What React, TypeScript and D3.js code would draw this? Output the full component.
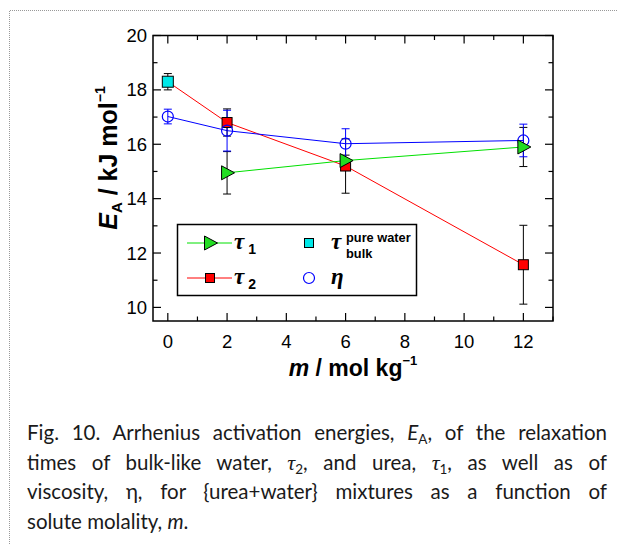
import React, { useEffect, useRef } from "react";
import * as d3 from "d3";

const tau1X = [2, 6, 12];
const tau1Y = [14.95, 15.4, 15.9];
const tau1Err = [0.78, 0.2, 0.72];

const tau2X = [0, 2, 6, 12];
const tau2Y = [18.3, 16.8, 15.2, 11.57];
const tau2Err = [0.3, 0.5, 1.0, 1.45];

const bulkX = [0];
const bulkY = [18.3];
const bulkErr = [0.3];

const etaX = [0, 2, 6, 12];
const etaY = [17.02, 16.5, 16.02, 16.14];
const etaErr = [0.27, 0.75, 0.55, 0.6];

const xTicks = [0, 2, 4, 6, 8, 10, 12];
const yTicks = [10, 12, 14, 16, 18, 20];

type Seg = { t: string; it?: boolean; sub?: boolean; font?: string };
const captionLines: Seg[][] = [
  [{ t: "Fig. 10. Arrhenius activation energies, " }, { t: "E", it: true }, { t: "A", sub: true }, { t: ", of the relaxation" }],
  [{ t: "times of bulk-like water, " }, { t: "τ", it: true, font: "Liberation Serif" }, { t: "2", sub: true }, { t: ", and urea, " }, { t: "τ", it: true, font: "Liberation Serif" }, { t: "1", sub: true }, { t: ", as well as of" }],
  [{ t: "viscosity, η, for {urea+water} mixtures as a function of" }],
  [{ t: "solute molality, " }, { t: "m", it: true }, { t: "." }],
];

export default function App() {
  const ref = useRef<SVGSVGElement>(null);

  useEffect(() => {
    const svg = d3.select(ref.current);
    svg.selectAll("*").remove();
    const W = 617, H = 544;
    svg.append("rect").attr("width", W).attr("height", H).attr("fill", "white");

    // dotted border
    svg.append("path").attr("d", `M9.5,${H} L9.5,10.5 L${W},10.5`)
      .attr("fill", "none").attr("stroke", "#999").attr("stroke-dasharray", "1,1");

    const x = d3.scaleLinear().domain([-0.5, 13]).range([153, 553]);
    const y = d3.scaleLinear().domain([9.5, 20]).range([321, 35.5]);
    const af = "Liberation Sans, Arial, sans-serif";

    const g = svg.append("g");
    // frame
    g.append("rect").attr("x", x(-0.5)).attr("y", y(20)).attr("width", x(13) - x(-0.5)).attr("height", y(9.5) - y(20))
      .attr("fill", "none").attr("stroke", "black").attr("stroke-width", 1.5);

    // ticks
    const xt = d3.range(0, 13.01, 1);
    xt.forEach((v) => {
      const len = v % 2 === 0 ? 8 : 4.5;
      g.append("line").attr("x1", x(v)).attr("x2", x(v)).attr("y1", y(9.5)).attr("y2", y(9.5) - len).attr("stroke", "black").attr("stroke-width", 1.2);
      g.append("line").attr("x1", x(v)).attr("x2", x(v)).attr("y1", y(20)).attr("y2", y(20) + len).attr("stroke", "black").attr("stroke-width", 1.2);
    });
    const yt = d3.range(10, 20.01, 1);
    yt.forEach((v) => {
      const len = v % 2 === 0 ? 8 : 4.5;
      g.append("line").attr("y1", y(v)).attr("y2", y(v)).attr("x1", x(-0.5)).attr("x2", x(-0.5) + len).attr("stroke", "black").attr("stroke-width", 1.2);
      g.append("line").attr("y1", y(v)).attr("y2", y(v)).attr("x1", x(13)).attr("x2", x(13) - len).attr("stroke", "black").attr("stroke-width", 1.2);
    });

    xTicks.forEach((v) => {
      g.append("text").attr("x", x(v)).attr("y", 348).attr("text-anchor", "middle")
        .attr("font-family", af).attr("font-size", 18.5).text(String(v));
    });
    yTicks.forEach((v) => {
      g.append("text").attr("x", 147).attr("y", y(v) + 6.5).attr("text-anchor", "end")
        .attr("font-family", af).attr("font-size", 18.5).text(String(v));
    });

    // axis titles
    const xl = g.append("text").attr("x", 353).attr("y", 376).attr("text-anchor", "middle")
      .attr("font-family", af).attr("font-size", 23).attr("font-weight", "bold");
    xl.append("tspan").attr("font-style", "italic").text("m");
    xl.append("tspan").text(" / mol kg");
    xl.append("tspan").attr("font-size", 13).attr("dy", -11).text("−1");

    const yl = g.append("text").attr("transform", "translate(117,158) rotate(-90)").attr("text-anchor", "middle")
      .attr("font-family", af).attr("font-size", 25).attr("font-weight", "bold");
    yl.append("tspan").attr("font-style", "italic").text("E");
    yl.append("tspan").attr("font-size", 15).attr("dy", 5).text("A");
    yl.append("tspan").attr("dy", -5).text(" / kJ mol");
    yl.append("tspan").attr("font-size", 14).attr("dy", -12).text("−1");

    // lines
    const line = d3.line<[number, number]>().x((d) => x(d[0])).y((d) => y(d[1]));
    g.append("path").attr("d", line(tau2X.map((v, i) => [v, tau2Y[i]]))).attr("fill", "none").attr("stroke", "#ff0000").attr("stroke-width", 1);
    g.append("path").attr("d", line(etaX.map((v, i) => [v, etaY[i]]))).attr("fill", "none").attr("stroke", "#0000ff").attr("stroke-width", 1);
    g.append("path").attr("d", line(tau1X.map((v, i) => [v, tau1Y[i]]))).attr("fill", "none").attr("stroke", "#00e000").attr("stroke-width", 1);

    const errBar = (xs: number[], ys: number[], es: number[], color: string) => {
      xs.forEach((v, i) => {
        const cx = x(v);
        const y0 = y(ys[i] - es[i]), y1 = y(ys[i] + es[i]);
        g.append("line").attr("x1", cx).attr("x2", cx).attr("y1", y0).attr("y2", y1).attr("stroke", color).attr("stroke-width", 1);
        [y0, y1].forEach((yy) => g.append("line").attr("x1", cx - 4).attr("x2", cx + 4).attr("y1", yy).attr("y2", yy).attr("stroke", color).attr("stroke-width", 1));
      });
    };
    errBar(tau2X.slice(1), tau2Y.slice(1), tau2Err.slice(1), "black");
    errBar(bulkX, bulkY, bulkErr, "black");
    errBar(tau1X, tau1Y, tau1Err, "black");
    errBar(etaX, etaY, etaErr, "#0000ff");

    const square = (cx: number, cy: number, fill: string, s = 10) =>
      g.append("rect").attr("x", cx - s / 2).attr("y", cy - s / 2).attr("width", s).attr("height", s)
        .attr("fill", fill).attr("stroke", "black").attr("stroke-width", 1);
    const tri = (cx: number, cy: number) =>
      g.append("path").attr("d", `M${cx - 5.5},${cy - 7} L${cx + 7.5},${cy} L${cx - 5.5},${cy + 7} Z`)
        .attr("fill", "#22dd22").attr("stroke", "black").attr("stroke-width", 1);
    const circ = (cx: number, cy: number) =>
      g.append("circle").attr("cx", cx).attr("cy", cy).attr("r", 5.5).attr("fill", "none").attr("stroke", "#0000ff").attr("stroke-width", 1.2);

    tau2X.slice(1).forEach((v, i) => square(x(v), y(tau2Y[i + 1]), "#ff0000"));
    bulkX.forEach((v, i) => square(x(v), y(bulkY[i]), "#00e8e8", 11));
    etaX.forEach((v, i) => circ(x(v), y(etaY[i])));
    tau1X.forEach((v, i) => tri(x(v), y(tau1Y[i])));

    // legend
    g.append("rect").attr("x", 177.5).attr("y", 224.5).attr("width", 239).attr("height", 71)
      .attr("fill", "white").attr("stroke", "black").attr("stroke-width", 1.5);
    const r1 = 243, r2 = 278;
    g.append("line").attr("x1", 187).attr("x2", 232).attr("y1", r1).attr("y2", r1).attr("stroke", "#00e000");
    tri(210, r1);
    g.append("line").attr("x1", 187).attr("x2", 232).attr("y1", r2).attr("y2", r2).attr("stroke", "#ff0000");
    square(210, r2, "#ff0000", 9);
    square(309, r1, "#00e8e8", 9);
    circ(309, r2);
    const sf = "Liberation Serif, Times New Roman, serif";
    const leg = (xx: number, yy: number, sym: string, sub: string) => {
      const t = g.append("text").attr("x", xx).attr("y", yy + 6);
      t.append("tspan").attr("font-family", sf).attr("font-style", "italic").attr("font-weight", "bold").attr("font-size", 23).text(sym);
      t.append("tspan").attr("font-family", af).attr("font-weight", "bold").attr("font-size", 14).attr("dx", 4).attr("dy", 5).text(sub);
    };
    leg(234, r1, "τ", "1");
    leg(234, r2, "τ", "2");
    g.append("text").attr("x", 331).attr("y", r1 + 6).attr("font-family", sf).attr("font-style", "italic").attr("font-weight", "bold").attr("font-size", 23).text("τ");
    g.append("text").attr("x", 346).attr("y", 242).attr("font-family", af).attr("font-weight", "bold").attr("font-size", 12.8).text("pure water");
    g.append("text").attr("x", 346).attr("y", 258).attr("font-family", af).attr("font-weight", "bold").attr("font-size", 12.8).text("bulk");
    g.append("text").attr("x", 331).attr("y", r2 + 6).attr("font-family", sf).attr("font-style", "italic").attr("font-weight", "bold").attr("font-size", 23).text("η");

    // caption
    const cf = "Lato, Open Sans, sans-serif";
    const left = 27, right = 607;
    captionLines.forEach((segs, li) => {
      const by = 440 + li * 29.7;
      const t = svg.append("text").attr("x", left).attr("y", by).attr("font-family", cf).attr("font-size", 20.5).attr("fill", "#1a1a1a");
      let subbed = false;
      segs.forEach((s) => {
        const sp = t.append("tspan").text(s.t);
        if (s.it) sp.attr("font-style", "italic");
        if (s.font) sp.attr("font-family", s.font).attr("font-size", 22);
        if (s.sub) { sp.attr("font-size", 13.5).attr("dy", 4); subbed = true; }
        else if (subbed) { sp.attr("dy", -4); subbed = false; }
      });
      if (li < captionLines.length - 1) {
        const node = t.node() as SVGTextElement;
        const len = node.getComputedTextLength();
        const full = segs.map((s) => s.t).join("");
        const spaces = (full.match(/ /g) || []).length;
        if (spaces > 0) t.attr("word-spacing", (right - left - len) / spaces);
      }
    });
  }, []);

  return <svg ref={ref} width={617} height={544} style={{ position: "absolute", left: 0, top: 0, display: "block" }} />;
}
